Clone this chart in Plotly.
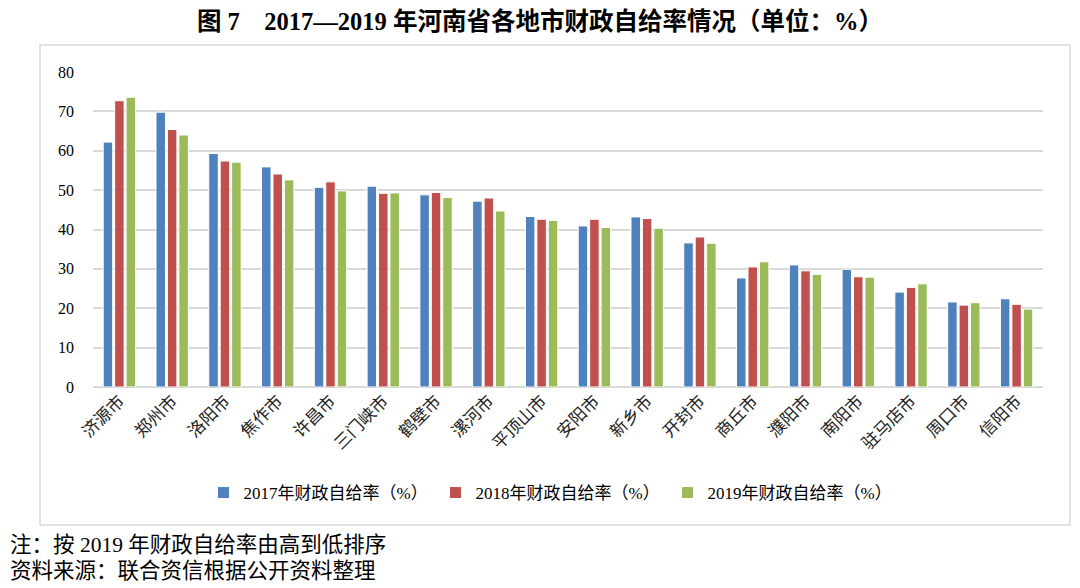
import plotly.graph_objects as go

cities = ['济源市', '郑州市', '洛阳市', '焦作市', '许昌市', '三门峡市', '鹤壁市', '漯河市', '平顶山市',
          '安阳市', '新乡市', '开封市', '商丘市', '濮阳市', '南阳市', '驻马店市', '周口市', '信阳市']
rate_2017 = [62.2, 69.8, 59.3, 55.9, 50.7, 51.0, 48.8, 47.2, 43.3, 40.9, 43.2, 36.6, 27.7, 31.0, 29.9, 24.1, 21.6, 22.4]
rate_2018 = [72.7, 65.4, 57.4, 54.1, 52.1, 49.2, 49.4, 48.0, 42.6, 42.6, 42.8, 38.1, 30.5, 29.5, 28.0, 25.3, 20.8, 21.0]
rate_2019 = [73.6, 64.0, 57.1, 52.6, 49.8, 49.3, 48.1, 44.7, 42.3, 40.5, 40.3, 36.5, 31.8, 28.6, 27.9, 26.2, 21.4, 19.8]
series_names = ['2017年财政自给率（%）', '2018年财政自给率（%）', '2019年财政自给率（%）']
colors = ['#4f81bd', '#c0504d', '#9bbb59']

FONT = 'Liberation Serif, Noto Sans CJK SC'

fig = go.Figure()
for name, vals, c in zip(series_names, [rate_2017, rate_2018, rate_2019], colors):
    fig.add_trace(go.Bar(
        x=cities, y=vals, name=name,
        marker=dict(color=c, line=dict(color='white', width=1)),
        hovertemplate='%{x}<br>' + name + ': %{y}<extra></extra>'
    ))

# page has an 8px body margin, so work in page pixels and shift
OFF = 8
W, H = 1080, 588
L = 93 - OFF
T = 72 - OFF
R = W - (1043 - OFF)
B = H - (387 - OFF)
pw, ph = W - L - R, H - T - B

def px_x(x):
    return (x - OFF - L) / pw

def px_y(y):
    return (H - B - (y - OFF)) / ph

fig.update_layout(
    width=W, height=H,
    margin=dict(l=L, r=R, t=T, b=B, autoexpand=False),
    paper_bgcolor='white', plot_bgcolor='white',
    barmode='group', bargap=0.35, bargroupgap=0.17,
    font=dict(family=FONT, size=14, color='black'),
    title=dict(
        text='<b>图 7　2017—2019 年河南省各地市财政自给率情况（单位：%）</b>',
        x=(540 - OFF) / W, xanchor='center', xref='container', y=1 - 13 / H, yanchor='middle',
        font=dict(family=FONT, size=24.5, color='black')
    ),
    xaxis=dict(
        tickangle=-45, showgrid=False, showline=False, ticks='', automargin=False,
        tickfont=dict(family=FONT, size=17, color='#222')
    ),
    yaxis=dict(
        range=[0, 80], dtick=10, showgrid=True, gridcolor='#d9d9d9', gridwidth=1.5,
        zeroline=True, zerolinecolor='#d9d9d9', zerolinewidth=1.5,
        ticks='', ticklabelstandoff=18, automargin=False,
        tickfont=dict(family=FONT, size=16, color='black')
    ),
    legend=dict(
        orientation='h', x=px_x(474) + 0.0816, xanchor='center', y=px_y(493), yanchor='middle',
        font=dict(family=FONT, size=17, color='black'),
        entrywidth=187, itemwidth=30, traceorder='normal'
    ),
    shapes=[dict(
        type='rect', xref='paper', yref='paper',
        x0=px_x(40), x1=px_x(1070), y0=px_y(525), y1=px_y(45),
        line=dict(color='#d9d9d9', width=1.5), fillcolor='rgba(0,0,0,0)', layer='below'
    )],
    annotations=[
        dict(text='注：按 2019 年财政自给率由高到低排序', xref='paper', yref='paper',
             x=px_x(8), y=px_y(545), xanchor='left', yanchor='middle', showarrow=False,
             font=dict(family=FONT, size=21.5, color='black')),
        dict(text='资料来源：联合资信根据公开资料整理', xref='paper', yref='paper',
             x=px_x(8), y=px_y(571), xanchor='left', yanchor='middle', showarrow=False,
             font=dict(family=FONT, size=21.5, color='black')),
    ]
)

fig.write_html('out.html')
